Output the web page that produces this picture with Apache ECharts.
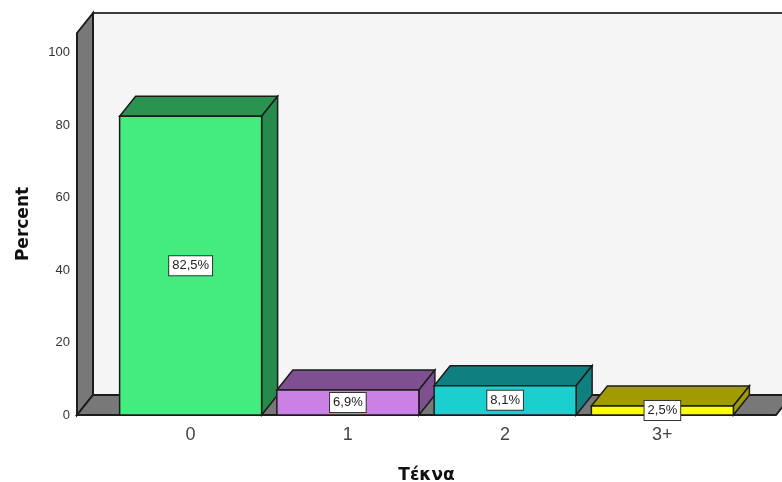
<!DOCTYPE html>
<html>
<head>
<meta charset="utf-8">
<style>html,body{margin:0;padding:0;background:#fff}#c{width:782px;height:482px}</style>
<script src="https://cdn.jsdelivr.net/npm/echarts@6/dist/echarts.min.js"></script>
</head>
<body>
<div id="c"></div>
<script>
// Number of children: share of respondents per category
const categories = ['0', '1', '2', '3+'];
const percents = [82.5, 6.9, 8.1, 2.5];
const percentLabels = ['82,5%', '6,9%', '8,1%', '2,5%'];
const frontColors = ['#44eb7e', '#cb80e5', '#1ccfcf', '#ffff00'];
const topColors = ['#2b9350', '#7e5090', '#107f7f', '#a09c00'];
const sideColors = ['#268a4c', '#7e5090', '#107f7f', '#a09c00'];
const yTicks = [0, 20, 40, 60, 80, 100];

// Oblique projection used for the pseudo-3D depth
const DEPTH_X = 16;
const DEPTH_Y = -20;
const WALL_MARGIN = 35;
const BAR_RATIO = 142 / 157.25;
const EDGE = '#1c1c1c';

function poly(points, fill, stroke, width) {
  return {
    type: 'polygon',
    shape: { points },
    style: { fill, stroke: stroke || EDGE, lineWidth: width || 1.5, lineJoin: 'miter' }
  };
}

// Back wall, left wall and floor of the chart box
function renderWalls(params, api) {
  const g = params.coordSys;
  const left = g.x - WALL_MARGIN;
  const right = g.x + g.width + WALL_MARGIN;
  const top = g.y;
  const bottom = g.y + g.height;
  return {
    type: 'group',
    children: [
      poly([[left + DEPTH_X, top + DEPTH_Y], [right + DEPTH_X, top + DEPTH_Y],
            [right + DEPTH_X, bottom + DEPTH_Y], [left + DEPTH_X, bottom + DEPTH_Y]], '#f5f5f5', '#3c3c3c', 1.8),
      poly([[left, top], [left + DEPTH_X, top + DEPTH_Y],
            [left + DEPTH_X, bottom + DEPTH_Y], [left, bottom]], '#787878', EDGE, 2),
      poly([[left, bottom], [left + DEPTH_X, bottom + DEPTH_Y],
            [right + DEPTH_X, bottom + DEPTH_Y], [right, bottom]], '#787878', EDGE, 2)
    ]
  };
}

// One box per category: front face, top face, right side face
function renderBar(params, api) {
  const idx = api.value(0);
  const pTop = api.coord([idx, api.value(1)]);
  const pBase = api.coord([idx, 0]);
  const w = api.size([1, 0])[0] * BAR_RATIO;
  const x0 = pTop[0] - w / 2;
  const x1 = pTop[0] + w / 2;
  const y0 = pTop[1];
  const y1 = pBase[1];
  return {
    type: 'group',
    children: [
      poly([[x0, y0], [x1, y0], [x1 + DEPTH_X, y0 + DEPTH_Y], [x0 + DEPTH_X, y0 + DEPTH_Y]], topColors[idx]),
      poly([[x1, y0], [x1 + DEPTH_X, y0 + DEPTH_Y], [x1 + DEPTH_X, y1 + DEPTH_Y], [x1, y1]], sideColors[idx]),
      poly([[x0, y0], [x1, y0], [x1, y1], [x0, y1]], frontColors[idx])
    ]
  };
}

// Boxed value label centred on the front face, drawn above every bar
function renderLabel(params, api) {
  const idx = api.value(0);
  const pMid = api.coord([idx, api.value(1) / 2]);
  return {
    type: 'text',
    z2: 10,
    style: {
      text: percentLabels[idx],
      x: pMid[0],
      y: pMid[1],
      align: 'center',
      verticalAlign: 'middle',
      font: '13px "Liberation Sans", Arial, sans-serif',
      fill: '#222',
      backgroundColor: '#fff',
      borderColor: '#333',
      borderWidth: 1,
      padding: [3, 3, 3, 3]
    }
  };
}

const barData = categories.map((c, i) => [i, percents[i]]);

const chart = echarts.init(document.getElementById('c'), null, { renderer: 'canvas' });
chart.setOption({
  animation: false,
  backgroundColor: '#fff',
  grid: { left: 112, right: 41, top: 33, bottom: 67, containLabel: false, outerBoundsMode: 'none' },
  xAxis: {
    type: 'category',
    data: categories,
    axisLine: { show: false },
    axisTick: { show: false },
    axisLabel: { color: '#444', fontSize: 18, fontFamily: '"Liberation Sans", Arial, sans-serif', margin: 11 },
    name: 'Τέκνα',
    nameLocation: 'middle',
    nameGap: 52,
    nameTextStyle: { color: '#111', fontSize: 17, fontWeight: 'bold', fontFamily: '"DejaVu Sans", sans-serif' }
  },
  yAxis: {
    type: 'value',
    min: 0,
    max: 105.5,
    interval: 20,
    offset: WALL_MARGIN,
    splitLine: { show: false },
    axisLine: { show: false },
    axisTick: { show: false },
    axisLabel: {
      color: '#333',
      fontSize: 13,
      fontFamily: '"Liberation Sans", Arial, sans-serif',
      margin: 7,
      padding: [4, 0, 0, 0],
      customValues: yTicks
    },
    name: 'Percent',
    nameLocation: 'middle',
    nameGap: 45,
    nameTextStyle: { color: '#111', fontSize: 17, fontWeight: 'bold', fontFamily: '"DejaVu Sans", sans-serif' }
  },
  series: [
    { type: 'custom', coordinateSystem: 'cartesian2d', data: [[0, 0]], renderItem: renderWalls, silent: true, z: 1, clip: false },
    { type: 'custom', coordinateSystem: 'cartesian2d', data: barData, renderItem: renderBar, encode: { x: 0, y: 1 }, z: 2, clip: false },
    { type: 'custom', coordinateSystem: 'cartesian2d', data: barData, renderItem: renderLabel, encode: { x: 0, y: 1 }, z: 3, clip: false }
  ]
});
</script>
</body>
</html>
